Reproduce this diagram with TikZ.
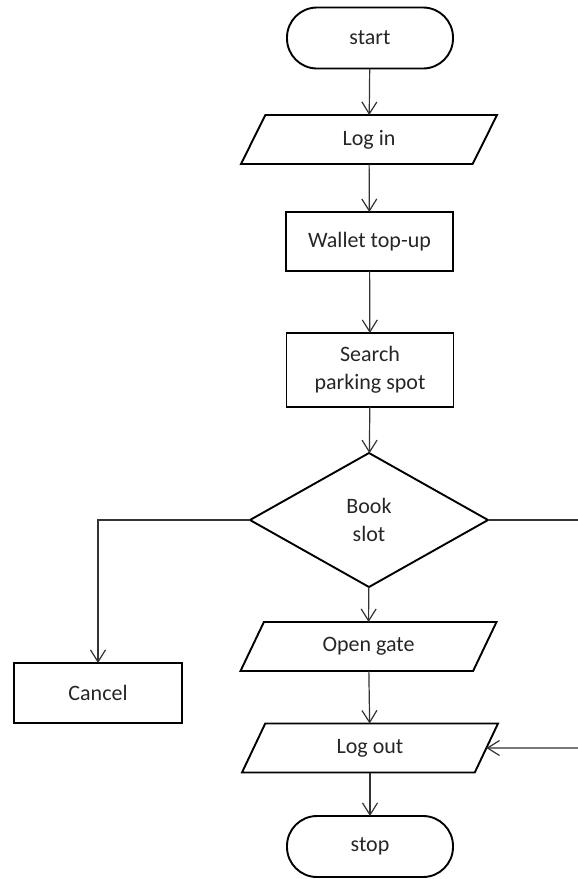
\documentclass[tikz,border=0pt]{standalone}
\usepackage{fontspec}
\setmainfont{Carlito}
\usetikzlibrary{shapes.geometric,arrows.meta}
\tikzset{
  base/.style={draw=black, line width=1.9pt, outer sep=0pt, inner sep=2pt, align=center, font=\fontsize{22}{28}\selectfont, text=black!85},
  term/.style={base, rectangle, rounded corners=30pt, minimum width=166pt, minimum height=61pt},
  proc/.style={base, rectangle, minimum width=167pt},
  io/.style={base, trapezium, trapezium left angle=43.3, trapezium right angle=136.7, trapezium stretches body, minimum width=256pt, minimum height=49pt},
  decision/.style={base, diamond, minimum width=238pt, minimum height=134pt},
  conn/.style={line width=1.2pt, draw=black!80},
  arr/.style={conn, -{Straight Barb[length=12pt,width=15pt]}},
}
\begin{document}
\begin{tikzpicture}[x=1pt,y=1pt]
\useasboundingbox (0,0) rectangle (578,-879);
\node[term] (start) at (370,-38) {start};
\node[io] (login) at (369,-139.5) {Log in};
\node[proc, minimum height=59pt] (wallet) at (369.5,-241.5) {Wallet top-up};
\node[proc, minimum height=74pt] (search) at (370,-370) {Search\\parking spot};
\node[decision] (book) at (369,-520) {Book\\slot};
\node[io] (gate) at (368.5,-646.5) {Open gate};
\node[io] (logout) at (370,-748) {Log out};
\node[term] (stop) at (370,-846.5) {stop};
\node[proc, minimum width=168pt, minimum height=60pt] (cancel) at (98,-693) {Cancel};
\coordinate (lcorner) at (98,-520);
\coordinate (rout) at (578,-520);
\coordinate (rin) at (578,-748);
\draw[arr] (start) -- (login);
\draw[arr] (login) -- (wallet);
\draw[arr] (wallet) -- (search);
\draw[arr] (search) -- (book);
\draw[arr] (book) -- (gate);
\draw[arr] (gate) -- (logout);
\draw[arr] (logout) -- (stop);
\draw[arr] (book.west) -- (lcorner) -- (cancel.north);
\draw[conn] (book.east) -- (rout);
\draw[arr] (rin) -- (logout.east);
\end{tikzpicture}
\end{document}
